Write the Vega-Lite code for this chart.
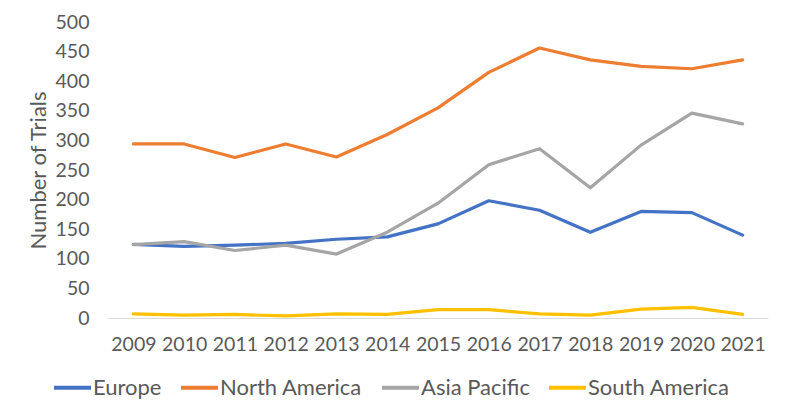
{
  "$schema": "https://vega.github.io/schema/vega-lite/v6.json",
  "width": 660,
  "height": 296,
  "autosize": "none",
  "padding": {"left": 108, "top": 22, "right": 19, "bottom": 102},
  "background": "white",
  "config": {
    "view": {"stroke": null},
    "font": "Lato",
    "axis": {"labelFont": "Lato", "titleFont": "Lato", "labelColor": "#595959", "titleColor": "#595959", "grid": false, "ticks": false},
    "legend": {"labelFont": "Lato", "labelColor": "#595959"}
  },
  "data": {
    "values": [
      {"year": "2009", "region": "Europe", "trials": 124.5},
      {"year": "2010", "region": "Europe", "trials": 121},
      {"year": "2011", "region": "Europe", "trials": 123},
      {"year": "2012", "region": "Europe", "trials": 126},
      {"year": "2013", "region": "Europe", "trials": 133},
      {"year": "2014", "region": "Europe", "trials": 137},
      {"year": "2015", "region": "Europe", "trials": 159},
      {"year": "2016", "region": "Europe", "trials": 198},
      {"year": "2017", "region": "Europe", "trials": 182},
      {"year": "2018", "region": "Europe", "trials": 145},
      {"year": "2019", "region": "Europe", "trials": 180},
      {"year": "2020", "region": "Europe", "trials": 178},
      {"year": "2021", "region": "Europe", "trials": 140},
      {"year": "2009", "region": "North America", "trials": 294},
      {"year": "2010", "region": "North America", "trials": 294},
      {"year": "2011", "region": "North America", "trials": 271},
      {"year": "2012", "region": "North America", "trials": 294},
      {"year": "2013", "region": "North America", "trials": 272},
      {"year": "2014", "region": "North America", "trials": 310},
      {"year": "2015", "region": "North America", "trials": 355},
      {"year": "2016", "region": "North America", "trials": 415},
      {"year": "2017", "region": "North America", "trials": 456},
      {"year": "2018", "region": "North America", "trials": 436},
      {"year": "2019", "region": "North America", "trials": 425},
      {"year": "2020", "region": "North America", "trials": 421},
      {"year": "2021", "region": "North America", "trials": 436},
      {"year": "2009", "region": "Asia Pacific", "trials": 124},
      {"year": "2010", "region": "Asia Pacific", "trials": 129},
      {"year": "2011", "region": "Asia Pacific", "trials": 114},
      {"year": "2012", "region": "Asia Pacific", "trials": 123},
      {"year": "2013", "region": "Asia Pacific", "trials": 108},
      {"year": "2014", "region": "Asia Pacific", "trials": 145},
      {"year": "2015", "region": "Asia Pacific", "trials": 194},
      {"year": "2016", "region": "Asia Pacific", "trials": 259},
      {"year": "2017", "region": "Asia Pacific", "trials": 286},
      {"year": "2018", "region": "Asia Pacific", "trials": 220},
      {"year": "2019", "region": "Asia Pacific", "trials": 292},
      {"year": "2020", "region": "Asia Pacific", "trials": 346},
      {"year": "2021", "region": "Asia Pacific", "trials": 328},
      {"year": "2009", "region": "South America", "trials": 7},
      {"year": "2010", "region": "South America", "trials": 5},
      {"year": "2011", "region": "South America", "trials": 6},
      {"year": "2012", "region": "South America", "trials": 3.5},
      {"year": "2013", "region": "South America", "trials": 7},
      {"year": "2014", "region": "South America", "trials": 6},
      {"year": "2015", "region": "South America", "trials": 14},
      {"year": "2016", "region": "South America", "trials": 14},
      {"year": "2017", "region": "South America", "trials": 7},
      {"year": "2018", "region": "South America", "trials": 5},
      {"year": "2019", "region": "South America", "trials": 15},
      {"year": "2020", "region": "South America", "trials": 18},
      {"year": "2021", "region": "South America", "trials": 6}
    ]
  },
  "mark": {"type": "line", "strokeWidth": 3.2, "strokeJoin": "round", "strokeCap": "round"},
  "encoding": {
    "x": {
      "field": "year", "type": "ordinal", "title": null,
      "scale": {"padding": 0.5},
      "axis": {"labelAngle": 0, "labelFontSize": 19.5, "labelPadding": 17, "domainColor": "#D9D9D9", "domainWidth": 1}
    },
    "y": {
      "field": "trials", "type": "quantitative", "title": "Number of Trials",
      "scale": {"domain": [0, 500], "nice": false},
      "axis": {"values": [0, 50, 100, 150, 200, 250, 300, 350, 400, 450, 500], "domain": false, "labelFontSize": 19.5, "labelPadding": 19, "titleFontSize": 22, "titleFontWeight": "normal", "titlePadding": 5}
    },
    "color": {
      "field": "region", "type": "nominal",
      "sort": ["Europe", "North America", "Asia Pacific", "South America"],
      "scale": {"domain": ["Europe", "North America", "Asia Pacific", "South America"], "range": ["#4472C4", "#ED7D31", "#A5A5A5", "#FFC000"]},
      "legend": {
        "title": null, "orient": "none", "direction": "horizontal",
        "legendX": -56, "legendY": 345,
        "symbolType": "stroke", "symbolSize": 1369, "symbolStrokeWidth": 4,
        "labelFontSize": 22, "labelOffset": 0, "columnPadding": 11
      }
    }
  }
}
